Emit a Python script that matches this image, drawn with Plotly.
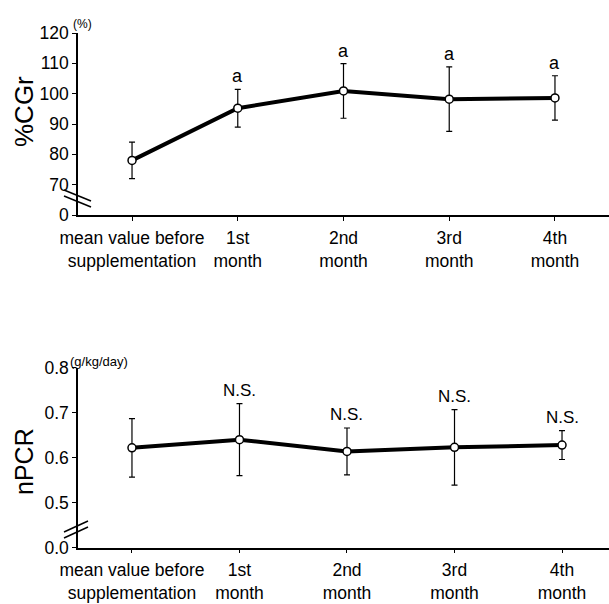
import plotly.graph_objects as go

categories = ["mean value before<br>supplementation", "1st<br>month", "2nd<br>month", "3rd<br>month", "4th<br>month"]

cgr_mean = [78.0, 95.2, 100.9, 98.2, 98.6]
cgr_sd = [6.0, 6.2, 9.0, 10.6, 7.3]
cgr_sig = ["", "a", "a", "a", "a"]
cgr_tickvals = [60, 70, 80, 90, 100, 110, 120]
cgr_ticktext = ["0", "70", "80", "90", "100", "110", "120"]

npcr_mean = [0.622, 0.640, 0.614, 0.623, 0.628]
npcr_sd = [0.065, 0.080, 0.052, 0.084, 0.032]
npcr_sig = ["", "N.S.", "N.S.", "N.S.", "N.S."]
npcr_tickvals = [0.4, 0.5, 0.6, 0.7, 0.8]
npcr_ticktext = ["0.0", "0.5", "0.6", "0.7", "0.8"]

FONT = "Liberation Sans, Arial, Helvetica, sans-serif"
W, H = 609, 604


def px(x):
    return x / W


def py(y):
    return 1 - y / H


fig = go.Figure()


def add_series(mean, sd, xa, ya):
    fig.add_trace(go.Scatter(
        x=categories, y=mean, xaxis=xa, yaxis=ya, mode="lines+markers",
        line=dict(color="black", width=4),
        marker=dict(symbol="circle", size=8, color="white", line=dict(color="black", width=1.5)),
        error_y=dict(type="data", array=sd, visible=True, thickness=1.2, width=3, color="black"),
        showlegend=False, cliponaxis=False,
    ))


add_series(cgr_mean, cgr_sd, "x", "y")
add_series(npcr_mean, npcr_sd, "x2", "y2")

xdom = [px(78), 1.0]
top_dom = [py(215), py(33)]
bot_dom = [py(547.7), py(367.7)]

axis_common = dict(showline=True, linecolor="black", linewidth=1.5, showgrid=False,
                   zeroline=False, ticks="outside", tickcolor="black", ticklen=4,
                   automargin=False,
                   tickfont=dict(family=FONT, size=17.5, color="black"))

fig.update_layout(
    template="none",
    width=W, height=H, margin=dict(l=0, r=0, t=0, b=0, autoexpand=False),
    paper_bgcolor="white", plot_bgcolor="white",
    font=dict(family=FONT, color="black"),
    xaxis=dict(domain=xdom, anchor="y", type="category", categoryorder="array",
               categoryarray=categories, range=[-0.511, 4.511],
               ticklabelstandoff=2, **axis_common),
    yaxis=dict(domain=top_dom, anchor="x", range=[60, 120], tickvals=cgr_tickvals,
               ticktext=cgr_ticktext, **axis_common),
    xaxis2=dict(domain=xdom, anchor="y2", type="category", categoryorder="array",
                categoryarray=categories, range=[-0.502, 4.437],
                ticklabelstandoff=2, **axis_common),
    yaxis2=dict(domain=bot_dom, anchor="x2", range=[0.4, 0.8], tickvals=npcr_tickvals,
                ticktext=npcr_ticktext, **axis_common),
)

ann = []
for c, m, s, t in zip(categories, cgr_mean, cgr_sd, cgr_sig):
    if t:
        ann.append(dict(x=c, y=m + s, xref="x", yref="y", text=t, showarrow=False,
                        yanchor="bottom", yshift=1, font=dict(family=FONT, size=18)))
for c, m, s, t in zip(categories, npcr_mean, npcr_sd, npcr_sig):
    if t:
        ann.append(dict(x=c, y=m + s, xref="x2", yref="y2", text=t, showarrow=False,
                        yanchor="bottom", yshift=2, font=dict(family=FONT, size=17)))

# axis titles and units
ann.append(dict(x=px(24), y=py(112), xref="paper", yref="paper", text="%CGr",
                xanchor="center", yanchor="middle",
                textangle=-90, showarrow=False, font=dict(family=FONT, size=26)))
ann.append(dict(x=px(24), y=py(462), xref="paper", yref="paper", text="nPCR",
                xanchor="center", yanchor="middle",
                textangle=-90, showarrow=False, font=dict(family=FONT, size=25)))
ann.append(dict(x=px(71), y=py(24), xref="paper", yref="paper", text="(%)",
                xanchor="left", yanchor="middle", showarrow=False, font=dict(family=FONT, size=12)))
ann.append(dict(x=px(68), y=py(361), xref="paper", yref="paper", text="(g/kg/day)",
                xanchor="left", yanchor="middle", showarrow=False, font=dict(family=FONT, size=13)))
fig.update_layout(annotations=ann)

# axis break marks
shapes = []
for dy in (0, 6):
    shapes.append(dict(type="line", xref="paper", yref="paper",
                       x0=px(64), y0=py(190 + dy), x1=px(91), y1=py(201 + dy),
                       line=dict(color="black", width=1.5)))
    shapes.append(dict(type="line", xref="paper", yref="paper",
                       x0=px(64), y0=py(532 + dy), x1=px(88), y1=py(521 + dy),
                       line=dict(color="black", width=1.5)))
fig.update_layout(shapes=shapes)

fig.write_html(
    "out.html",
    config={"displayModeBar": False},
    post_script="document.body.style.margin='0';document.body.style.overflow='hidden';",
)
